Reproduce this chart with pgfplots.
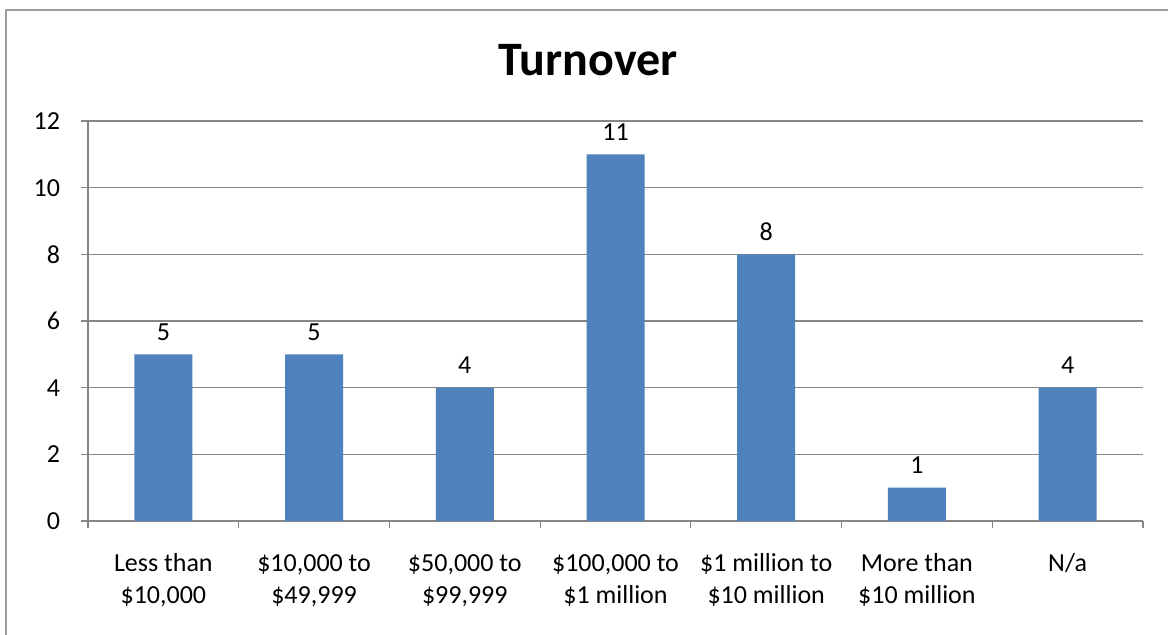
\documentclass[border=0pt]{standalone}
\usepackage{pgfplots}
\pgfplotsset{compat=1.18}
\usepackage{fontspec}
\setmainfont{Carlito}
\definecolor{barblue}{HTML}{4F81BD}
\definecolor{gridgray}{HTML}{868686}
\newcommand{\s}{\strut}
\begin{document}
\begin{tikzpicture}
\useasboundingbox (0,0) rectangle (584pt,317.5pt);
\fill[white] (0,0) rectangle (584pt,317.5pt);
\draw[gridgray!80, line width=0.9pt] (3pt,-5pt) -- (3pt,312.5pt) -- (600pt,312.5pt);
\node[font=\fontsize{24}{26}\selectfont\bfseries] at (294pt,287.5pt) {Turnover};
\begin{axis}[
  at={(44pt,57pt)}, anchor=south west,
  scale only axis, width=527.5pt, height=200pt,
  xmin=-0.5, xmax=6.5, ymin=0, ymax=12,
  ytick={0,2,...,12},
  xtick={0,...,6},
  xticklabels={{\s Less than\\\s\$10,000},{\s\$10,000 to\\\s\$49,999},{\s\$50,000 to\\\s\$99,999},{\s\$100,000 to\\\s\$1 million},{\s\$1 million to\\\s\$10 million},{\s More than\\\s\$10 million},{\s N/a}},
  x tick label style={align=center, anchor=north, font=\fontsize{13}{16}\selectfont, yshift=-7pt},
  y tick label style={font=\fontsize{13}{15}\selectfont, xshift=-7pt},
  /pgf/number format/assume math mode=true,
  major x tick style={draw=none},
  minor xtick={-0.5,0.5,...,6.5},
  minor tick length=3.5pt,
  major tick length=3.5pt,
  tick align=outside,
  tick style={gridgray, line width=0.6pt},
  ymajorgrids,
  grid style={gridgray, line width=0.7pt},
  axis x line*=bottom, axis y line*=left,
  axis line style={gridgray, line width=0.7pt, -},
  ybar, bar width=29pt,
  nodes near coords,
  every node near coord/.append style={font=\fontsize{13}{15}\selectfont, black, yshift=3.5pt},
]
\addplot[fill=barblue, draw=none] coordinates {(0,5) (1,5) (2,4) (3,11) (4,8) (5,1) (6,4)};
\end{axis}
\end{tikzpicture}
\end{document}
